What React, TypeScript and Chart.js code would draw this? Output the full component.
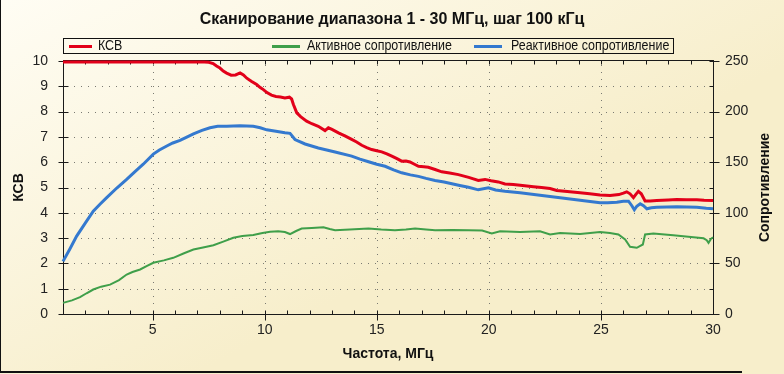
import React, { useEffect, useRef } from 'react';
import { Chart, registerables } from 'chart.js';

Chart.register(...registerables);

// ---------- data ----------
const chartTitle = 'Сканирование диапазона 1 - 30 МГц, шаг 100 кГц';
const xAxisTitle = 'Частота, МГц';
const leftAxisTitle = 'КСВ';
const rightAxisTitle = 'Сопротивление';
const seriesNames = ['КСВ', 'Активное сопротивление', 'Реактивное сопротивление'];

const xTickValues = [5, 10, 15, 20, 25, 30];
const leftTickMax = 10;
const rightTickMax = 250;

const ksvFreq = [1, 2, 3, 4, 5, 6, 7, 7.3, 7.5, 7.7, 7.85, 8.0, 8.15, 8.3, 8.5, 8.7, 8.9, 9.05, 9.2, 9.4, 9.64, 9.8, 9.94, 10.1, 10.3, 10.5, 10.7, 10.9, 11.1, 11.2, 11.28, 11.43, 11.6, 11.87, 12.1, 12.39, 12.69, 12.84, 13.0, 13.29, 13.6, 13.88, 14.1, 14.33, 14.55, 14.77, 15.0, 15.22, 15.45, 15.67, 15.9, 16.11, 16.3, 16.48, 16.68, 16.86, 17.1, 17.3, 17.6, 17.9, 18.25, 18.64, 19.1, 19.53, 19.83, 20.1, 20.42, 20.72, 21.09, 21.5, 21.99, 22.35, 22.73, 23.03, 23.5, 24.07, 24.5, 24.96, 25.41, 25.8, 26.0, 26.15, 26.3, 26.45, 26.55, 26.67, 26.8, 26.97, 27.2, 27.49, 28.0, 28.39, 28.8, 29.28, 29.6, 30.0];
const ksvValues = [9.96, 9.96, 9.96, 9.96, 9.96, 9.96, 9.96, 9.96, 9.95, 9.9, 9.8, 9.72, 9.6, 9.52, 9.44, 9.45, 9.53, 9.45, 9.32, 9.2, 9.07, 8.95, 8.87, 8.75, 8.65, 8.6, 8.58, 8.54, 8.57, 8.5, 8.28, 7.95, 7.8, 7.62, 7.52, 7.42, 7.25, 7.36, 7.3, 7.16, 7.03, 6.9, 6.8, 6.67, 6.58, 6.5, 6.45, 6.41, 6.33, 6.24, 6.14, 6.04, 6.05, 6.01, 5.92, 5.84, 5.82, 5.8, 5.71, 5.62, 5.57, 5.51, 5.4, 5.28, 5.32, 5.27, 5.22, 5.14, 5.12, 5.08, 5.03, 5.0, 4.96, 4.88, 4.84, 4.79, 4.75, 4.7, 4.68, 4.72, 4.78, 4.83, 4.75, 4.6, 4.72, 4.85, 4.75, 4.47, 4.47, 4.49, 4.51, 4.53, 4.52, 4.52, 4.5, 4.49];

const activeFreq = [1.0, 1.4, 1.76, 2.05, 2.35, 2.7, 3.1, 3.5, 3.84, 4.1, 4.44, 4.75, 5.03, 5.5, 5.92, 6.4, 6.82, 7.3, 7.71, 8.15, 8.6, 9.0, 9.49, 9.9, 10.24, 10.6, 10.9, 11.13, 11.4, 11.65, 12.1, 12.62, 12.9, 13.14, 13.8, 14.63, 15.2, 15.81, 16.3, 16.71, 17.2, 17.6, 18.4, 19.09, 19.7, 20.13, 20.5, 21.39, 22.28, 22.73, 23.18, 24.07, 24.96, 25.4, 25.78, 26.08, 26.3, 26.6, 26.87, 26.97, 27.34, 28.23, 29.13, 29.58, 29.72, 29.8, 29.9, 30.0];
const activeValues = [11, 13.5, 16.6, 20.5, 24.2, 27, 29, 33.5, 39, 41.5, 44, 47.5, 50.6, 53, 55.5, 60, 63.7, 66, 68, 71.5, 75.3, 77, 78, 80, 81.2, 81.8, 81, 79, 82, 84.5, 85, 85.8, 84, 82.8, 83.5, 84.5, 83.5, 82.8, 83.5, 84.5, 83.5, 82.8, 83, 82.8, 82.5, 79.5, 81.8, 81, 81.8, 78.6, 80, 79, 81, 80, 78.6, 73.6, 66.4, 65.4, 68.7, 78.6, 79.5, 77.8, 75.9, 74.8, 73, 70.3, 74, 75.9];

const reactiveFreq = [1.0, 1.3, 1.61, 2.0, 2.35, 2.65, 2.95, 3.4, 3.84, 4.2, 4.58, 5.03, 5.3, 5.63, 5.9, 6.22, 6.5, 6.82, 7.2, 7.56, 7.9, 8.3, 8.9, 9.49, 9.8, 10.09, 10.5, 10.9, 11.13, 11.35, 11.8, 12.39, 13.14, 13.88, 14.25, 14.63, 15.0, 15.37, 15.75, 16.11, 16.5, 16.86, 17.2, 17.6, 18.0, 18.35, 18.7, 19.09, 19.53, 19.98, 20.3, 20.72, 21.39, 22.28, 23.18, 24.07, 24.96, 25.3, 25.71, 26.0, 26.23, 26.38, 26.49, 26.6, 26.75, 26.9, 27.05, 27.25, 27.49, 28.39, 29.28, 29.7, 30.0];
const reactiveValues = [52, 64, 77, 90, 101.6, 108.5, 115, 124.5, 133, 140.5, 148, 158, 162, 166, 169, 171.5, 174.5, 178, 181.5, 184, 185.5, 185.6, 186, 185.5, 184, 182, 180.5, 179, 178.5, 172.4, 168, 164, 160, 156, 153, 150.4, 148, 146, 142.5, 139.5, 137.5, 136, 134, 132, 130.5, 128.7, 127, 125.3, 122.7, 124.7, 122.5, 121.3, 119.8, 117.4, 114.8, 112.5, 109.9, 110, 110.5, 111.5, 111.5, 107, 103, 106.5, 109, 107, 104, 105, 105.5, 106, 105.5, 104.5, 104];

const seriesColors = ['#e2001a', '#3f9f4a', '#3479cf'];

const pairs = (xs: number[], ys: number[]) => xs.map((x, i) => ({ x, y: ys[i] }));

const FONT = '"Liberation Sans", Arial, sans-serif';

const decorPlugin = {
  id: 'decor',
  beforeDraw(chart: any) {
    const { ctx, width, height } = chart;
    ctx.save();
    const g = ctx.createLinearGradient(0, 0, width * 0.25, height);
    g.addColorStop(0, '#fffdf4');
    g.addColorStop(1, '#f7eecb');
    ctx.fillStyle = g;
    ctx.fillRect(0, 0, width, height);
    ctx.restore();
  },
  beforeDatasetsDraw(chart: any) {
    const { ctx, chartArea, scales } = chart;
    const { left, right, top, bottom } = chartArea;
    const xs = scales.x, yl = scales.y, yr = scales.y1;
    ctx.save();
    // dotted grid
    ctx.strokeStyle = '#7a7a72';
    ctx.lineWidth = 1;
    ctx.setLineDash([1, 6]);
    for (let v = 1; v < leftTickMax; v++) {
      const y = Math.round(yl.getPixelForValue(v)) + 0.5;
      ctx.beginPath(); ctx.moveTo(left + 4, y); ctx.lineTo(right - 4, y); ctx.stroke();
    }
    for (const f of xTickValues) {
      if (f >= 30) continue;
      const x = Math.round(xs.getPixelForValue(f)) + 0.5;
      ctx.beginPath(); ctx.moveTo(x, top + 4); ctx.lineTo(x, bottom - 4); ctx.stroke();
    }
    ctx.setLineDash([]);
    // frame
    ctx.strokeStyle = '#1a1a1a';
    ctx.lineWidth = 1;
    const L = Math.round(left) + 0.5, R = Math.round(right) + 0.5, T = Math.round(top) - 0.5, B = Math.round(bottom) + 0.5;
    ctx.strokeRect(L, T, R - L, B - T);
    ctx.beginPath();
    for (let f = 2; f < 30; f++) {
      const x = Math.round(xs.getPixelForValue(f)) + 0.5;
      const major = f % 5 === 0;
      ctx.moveTo(x, B - 4); ctx.lineTo(x, major ? B + 6 : B);
      ctx.moveTo(x, T); ctx.lineTo(x, T + 4);
    }
    for (let v = 0; v <= leftTickMax; v++) {
      const y = Math.round(yl.getPixelForValue(v)) + 0.5;
      ctx.moveTo(L - 5, y); ctx.lineTo(L + 5, y);
    }
    for (let r = 0; r <= rightTickMax; r += 25) {
      const y = Math.round(yr.getPixelForValue(r)) + 0.5;
      const major = r % 50 === 0;
      ctx.moveTo(R - 4, y); ctx.lineTo(major ? R + 6 : R, y);
    }
    ctx.stroke();
    ctx.restore();
  },
  afterDraw(chart: any) {
    const { ctx, chartArea } = chart;
    ctx.save();
    ctx.fillStyle = '#111';
    ctx.textBaseline = 'middle';
    // title
    ctx.font = `bold 16px ${FONT}`;
    ctx.textAlign = 'center';
    ctx.fillText(chartTitle, 392, 20);
    // axis titles
    ctx.font = `bold 14px ${FONT}`;
    ctx.fillText(xAxisTitle, (chartArea.left + chartArea.right) / 2, 354);
    const cy = (chartArea.top + chartArea.bottom) / 2;
    ctx.save(); ctx.translate(19, cy); ctx.rotate(-Math.PI / 2); ctx.fillText(leftAxisTitle, 0, 0); ctx.restore();
    ctx.save(); ctx.translate(765, cy); ctx.rotate(-Math.PI / 2); ctx.fillText(rightAxisTitle, 0, 0); ctx.restore();
    // legend
    ctx.strokeStyle = '#111';
    ctx.lineWidth = 1;
    ctx.strokeRect(63.5, 38.5, 610, 15);
    const items = [
      { name: seriesNames[0], color: seriesColors[0], x0: 69, x1: 92, tx: 98 },
      { name: seriesNames[1], color: seriesColors[1], x0: 272, x1: 300, tx: 307 },
      { name: seriesNames[2], color: seriesColors[2], x0: 474, x1: 502, tx: 511 },
    ];
    ctx.font = `14px ${FONT}`;
    ctx.textAlign = 'left';
    for (const it of items) {
      ctx.strokeStyle = it.color;
      ctx.lineWidth = 3;
      ctx.beginPath(); ctx.moveTo(it.x0, 46.5); ctx.lineTo(it.x1, 46.5); ctx.stroke();
      ctx.fillStyle = '#111';
      ctx.save();
      ctx.translate(it.tx, 46.5);
      ctx.scale(0.89, 1);
      ctx.fillText(it.name, 0, 0);
      ctx.restore();
    }
    // outer frame (left, bottom)
    ctx.fillStyle = '#111';
    ctx.fillRect(0, 0, 1, 373);
    ctx.fillRect(0, 371, 742, 2);
    ctx.restore();
  },
};

export default function App() {
  const ref = useRef<HTMLCanvasElement>(null);
  useEffect(() => {
    document.body.style.margin = '0';
    const canvas = ref.current!;
    const tickFont = { family: FONT, size: 14 };
    const chart = new Chart(canvas, {
      type: 'line',
      data: {
        datasets: [
          {
            label: seriesNames[0], data: pairs(ksvFreq, ksvValues), yAxisID: 'y',
            borderColor: seriesColors[0], borderWidth: 3, pointRadius: 0, tension: 0, clip: false,
          },
          {
            label: seriesNames[1], data: pairs(activeFreq, activeValues), yAxisID: 'y1',
            borderColor: seriesColors[1], borderWidth: 2, pointRadius: 0, tension: 0, clip: false,
          },
          {
            label: seriesNames[2], data: pairs(reactiveFreq, reactiveValues), yAxisID: 'y1',
            borderColor: seriesColors[2], borderWidth: 3, pointRadius: 0, tension: 0, clip: false,
          },
        ],
      } as any,
      options: {
        responsive: false,
        animation: false,
        devicePixelRatio: 1,
        layout: { padding: { top: 61, left: 0, right: 0, bottom: 0 } },
        plugins: { legend: { display: false }, title: { display: false }, tooltip: { enabled: false } },
        scales: {
          x: {
            type: 'linear', min: 1, max: 30, position: 'bottom',
            grid: { display: false, drawTicks: false, tickLength: 0 },
            border: { display: false },
            afterBuildTicks: (s: any) => { s.ticks = xTickValues.map((v) => ({ value: v })); },
            ticks: { font: tickFont, color: '#222', padding: 8, maxRotation: 0, autoSkip: false },
            afterFit: (s: any) => { s.height = 60; s.paddingLeft = 0; s.paddingRight = 0; },
          },
          y: {
            type: 'linear', position: 'left', min: 0, max: leftTickMax,
            grid: { display: false, drawTicks: false, tickLength: 0 },
            border: { display: false },
            ticks: { stepSize: 1, font: tickFont, color: '#222', padding: 15 },
            afterFit: (s: any) => { s.width = 63; s.paddingTop = 0; s.paddingBottom = 0; },
          },
          y1: {
            type: 'linear', position: 'right', min: 0, max: rightTickMax,
            grid: { display: false, drawTicks: false, tickLength: 0 },
            border: { display: false },
            ticks: { stepSize: 50, font: tickFont, color: '#222', padding: 12 },
            afterFit: (s: any) => { s.width = 71; s.paddingTop = 0; s.paddingBottom = 0; },
          },
        },
      } as any,
      plugins: [decorPlugin],
    });
    return () => chart.destroy();
  }, []);
  return (
    <div style={{ width: 784, height: 374, overflow: 'hidden' }}>
      <canvas ref={ref} width={784} height={374} style={{ display: 'block' }} />
    </div>
  );
}
